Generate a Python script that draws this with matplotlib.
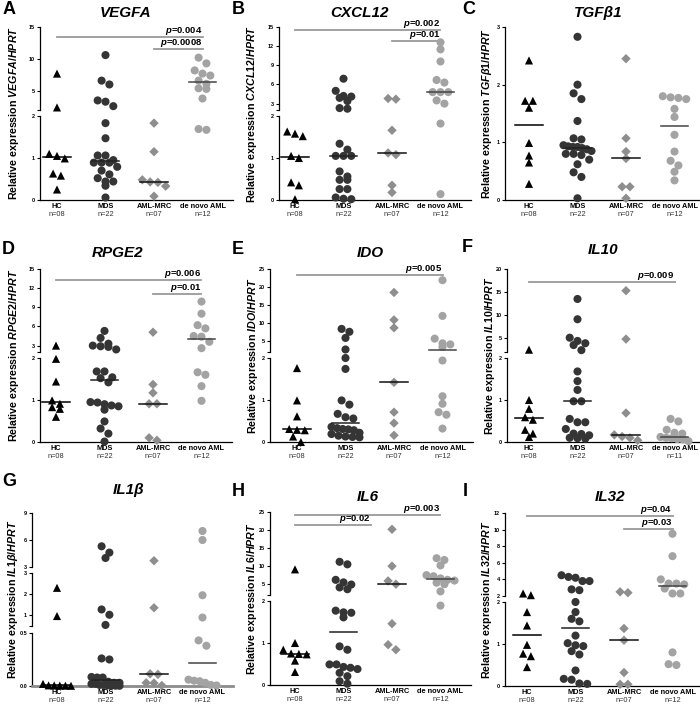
import numpy as np
import matplotlib.pyplot as plt

plt.rcParams['font.family'] = ['Liberation Sans', 'DejaVu Sans']
plt.rcParams['mathtext.fontset'] = 'custom'
plt.rcParams['mathtext.it'] = 'Liberation Sans:italic:bold'
plt.rcParams['mathtext.rm'] = 'Liberation Sans:bold'
plt.rcParams['mathtext.bf'] = 'Liberation Sans:bold'

# groups on the x axis
groups = ['HC', 'MDS', 'AML-MRC', 'de novo AML']
n_12 = ['n=08', 'n=22', 'n=07', 'n=12']
n_11 = ['n=08', 'n=22', 'n=07', 'n=11']

# relative expression, one list per group: HC, MDS, AML-MRC, de novo AML
vegfa = [
    [7.7, 2.4, 1.10, 1.05, 0.99, 0.63, 0.58, 0.25],
    [10.6, 6.6, 6.0, 3.5, 3.3, 2.6, 1.83, 1.47, 1.06, 1.06, 0.95, 0.89, 0.89, 0.89,
     0.79, 0.70, 0.61, 0.52, 0.44, 0.44, 0.34, 0.06],
    [1.83, 1.15, 0.48, 0.43, 0.42, 0.33, 0.09],
    [10.2, 9.3, 8.2, 7.7, 7.4, 6.6, 6.1, 5.4, 5.3, 3.8, 1.69, 1.67],
]
cxcl12 = [
    [1.63, 1.58, 1.52, 1.05, 1.0, 0.42, 0.35, 0.02],
    [6.9, 5.0, 4.2, 4.1, 3.9, 3.4, 2.3, 2.2, 1.34, 1.2, 1.05, 1.05, 1.05, 0.68,
     0.56, 0.48, 0.48, 0.26, 0.26, 0.06, 0.03, 0.02],
    [3.8, 3.7, 1.66, 1.12, 1.08, 0.35, 0.18],
    [12.6, 11.5, 9.6, 6.7, 6.3, 4.8, 4.8, 4.8, 3.5, 3.0, 1.82, 0.14],
]
tgfb1 = [
    [2.42, 1.72, 1.72, 1.60, 0.99, 0.77, 0.65, 0.28],
    [2.83, 2.0, 1.85, 1.75, 1.37, 1.07, 1.05, 0.95, 0.93, 0.92, 0.92, 0.90, 0.88,
     0.85, 0.80, 0.80, 0.78, 0.70, 0.62, 0.48, 0.40, 0.03],
    [2.45, 1.07, 0.84, 0.72, 0.23, 0.23, 0.03],
    [1.80, 1.78, 1.77, 1.75, 1.58, 1.44, 1.13, 0.84, 0.68, 0.60, 0.49, 0.34],
]
rpge2 = [
    [3.0, 1.98, 1.44, 0.99, 0.91, 0.83, 0.79, 0.60],
    [5.3, 4.2, 3.3, 3.0, 2.9, 2.8, 2.4, 1.68, 1.68, 1.54, 1.52, 1.42, 0.95, 0.94,
     0.90, 0.87, 0.85, 0.77, 0.49, 0.32, 0.20, 0.01],
    [5.1, 1.37, 1.17, 0.91, 0.91, 0.10, 0.04],
    [9.9, 8.0, 6.2, 5.7, 4.5, 4.4, 3.6, 2.6, 1.66, 1.60, 1.33, 0.98],
]
ido = [
    [1.76, 0.99, 0.61, 0.31, 0.29, 0.28, 0.13, 0.0],
    [8.4, 7.6, 5.9, 2.7, 2.0, 1.74, 0.99, 0.89, 0.67, 0.59, 0.56, 0.36, 0.33, 0.31,
     0.30, 0.28, 0.22, 0.19, 0.15, 0.13, 0.12, 0.11],
    [18.5, 10.9, 8.7, 1.42, 0.71, 0.45, 0.16],
    [21.9, 12.0, 5.7, 4.4, 4.1, 3.4, 1.94, 1.09, 0.91, 0.71, 0.65, 0.32],
]
il10 = [
    [2.5, 1.0, 0.79, 0.59, 0.53, 0.29, 0.20, 0.12],
    [13.5, 9.1, 5.1, 4.4, 3.9, 3.5, 2.4, 1.68, 1.45, 1.24, 0.97, 0.97, 0.55, 0.47,
     0.47, 0.31, 0.20, 0.19, 0.16, 0.10, 0.09, 0.08],
    [15.3, 4.8, 0.69, 0.17, 0.13, 0.10, 0.04],
    [0.55, 0.49, 0.29, 0.22, 0.20, 0.12, 0.10, 0.09, 0.07, 0.06, 0.02],
]
il1b = [
    [2.3, 0.97, 0.02, 0.006, 0.005, 0.004, 0.003, 0.002],
    [5.3, 4.6, 4.0, 1.28, 1.03, 0.55, 0.26, 0.25, 0.085, 0.08, 0.08, 0.04, 0.03,
     0.03, 0.02, 0.02, 0.01, 0.01, 0.005, 0.005, 0.003, 0.002],
    [3.7, 1.36, 0.115, 0.11, 0.03, 0.028, 0.005],
    [7.0, 6.0, 1.95, 0.9, 0.43, 0.38, 0.06, 0.05, 0.045, 0.03, 0.01, 0.005],
]
il6 = [
    [9.1, 1.0, 0.84, 0.75, 0.74, 0.73, 0.58, 0.31],
    [11.2, 10.5, 6.2, 5.5, 4.9, 4.1, 3.6, 1.77, 1.73, 1.72, 1.61, 0.92, 0.84, 0.49,
     0.49, 0.43, 0.41, 0.38, 0.29, 0.21, 0.09, 0.03],
    [20.2, 10.0, 5.9, 5.0, 1.46, 0.96, 0.84],
    [12.2, 11.7, 10.2, 7.5, 7.2, 6.6, 6.2, 6.0, 5.4, 5.0, 3.0, 1.89],
]
il32 = [
    [2.3, 2.1, 1.76, 1.44, 0.98, 0.77, 0.71, 0.45],
    [4.5, 4.3, 4.2, 3.8, 3.8, 2.8, 2.7, 2.0, 1.76, 1.6, 1.54, 1.2, 1.02, 0.97, 0.95,
     0.83, 0.75, 0.37, 0.17, 0.15, 0.06, 0.05],
    [2.5, 2.4, 1.37, 1.09, 0.32, 0.04, 0.04],
    [9.5, 6.8, 4.0, 3.5, 3.5, 3.4, 2.9, 2.3, 2.3, 0.8, 0.52, 0.50],
]

# p-value bars: (from group, to group, height, p)
bars_a = [(1, 4, 13.4, '0.004'), (3, 4, 11.5, '0.0008')]
bars_b = [(1, 4, 14.6, '0.002'), (3, 4, 12.8, '0.01')]
bars_d = [(1, 4, 13.2, '0.006'), (3, 4, 11.1, '0.01')]
bars_e = [(1, 4, 23.3, '0.005')]
bars_f = [(1, 4, 17.1, '0.009')]
bars_h = [(1, 4, 24.3, '0.003'), (1, 2.57, 21.3, '0.02')]
bars_i = [(1, 4, 11.6, '0.04'), (3, 4, 10.05, '0.03')]

# broken axis segments, bottom to top: (lo, hi, height px, ticks, labels, gap above px)
def two_seg(top, ticks):
    return [(0, 2, 84, [0, 1, 2], ['0', '1', '2'], 6),
            (2, top, 83, ticks, [str(t) for t in ticks], 0)]

markers = ['^', 'o', 'D', 'o']
sizes = [34, 34, 23, 34]
colors = ['black', '#353535', '#8e8e8e', '#a3a3a3']
med_colors = ['black', '#222222', '#111111', '#444444']

W, H = 700, 707
fig = plt.figure(figsize=(7, 7.07), dpi=100)
step = 48.5  # px between groups


def box(x0, y_top, w, h):
    return [x0 / W, 1 - (y_top + h) / H, w / W, h / H]


def draw_panel(letter, gene, data, nlab, segs, bars, spine, top, hc_off,
               title_xy, letter_xy, ylab_x, gray_axis=False):
    x_left = 1 - hc_off / step
    x_right = 4.63
    width = (x_right - x_left) * step
    total = sum(s[2] + s[5] for s in segs)

    axes = []
    cur = top + total
    for i, (lo, hi, h, ticks, labels, gap) in enumerate(segs):
        ax = fig.add_axes(box(spine, cur - h, width, h))
        cur = cur - h - gap
        ax.set_xlim(x_left, x_right)
        ax.set_ylim(lo, hi)
        ax.patch.set_visible(False)
        for s in ['top', 'right']:
            ax.spines[s].set_visible(False)
        ax.spines['left'].set_linewidth(0.9)
        tk = list(ticks)
        lb = list(labels)
        if lo not in tk:
            tk = [lo] + tk
            lb = [''] + lb
        ax.set_yticks(tk)
        ax.set_yticklabels(lb, fontsize=4, fontweight='bold')
        ax.tick_params(axis='y', length=2.5, width=0.8, pad=1)
        if i == 0:
            ax.spines['bottom'].set_linewidth(2 if gray_axis else 0.9)
            ax.spines['bottom'].set_color('#8c8c8c' if gray_axis else 'black')
            ax.set_xticks([1, 2, 3, 4])
            ax.set_xticklabels(groups, fontsize=5.3, fontweight='bold')
            ax.tick_params(axis='x', length=0, pad=2)
            for k, t in enumerate(nlab):
                ax.annotate(t, xy=(k + 1, 0), xycoords=('data', 'axes fraction'),
                            xytext=(0, -8.2), textcoords='offset points',
                            ha='center', va='top', fontsize=5.3, color='#333333')
        else:
            ax.spines['bottom'].set_visible(False)
            ax.set_xticks([])
        axes.append(ax)

    def seg_of(v):
        for j, s in enumerate(segs):
            if v <= s[1]:
                return j
        return len(segs) - 1

    px_unit = axes[0].bbox.width / (x_right - x_left)

    for g, vals in enumerate(data):
        vals = np.array(vals)
        order = np.argsort(-vals)
        ypix = np.array([axes[seg_of(v)].transData.transform((1, v))[1] for v in vals])
        # simple column scatter: points in the same row are spread sideways
        xoff = np.zeros(len(vals))
        rows = []
        for idx in order:
            if rows and abs(ypix[rows[-1][0]] - ypix[idx]) < 6.5:
                rows[-1].append(idx)
            else:
                rows.append([idx])
        for r in rows:
            k = len(r)
            sp = min(7.8, 28 / (k - 1)) if k > 1 else 0
            for i, idx in enumerate(r):
                xoff[idx] = (i - (k - 1) / 2) * sp / px_unit
        for j, ax in enumerate(axes):
            sel = np.array([seg_of(v) == j for v in vals])
            if sel.any():
                ax.scatter(g + 1 + xoff[sel], vals[sel], marker=markers[g], s=sizes[g],
                           color=colors[g], edgecolors='none', clip_on=False, zorder=3)
        m = np.median(vals)
        axes[seg_of(m)].plot([g + 1 - 0.28, g + 1 + 0.28], [m, m], color=med_colors[g],
                             lw=1.1, clip_on=False, zorder=4)

    for x1, x2, y, p in bars:
        ax = axes[-1]
        ax.plot([x1, x2], [y, y], color='#9a9a9a', lw=1.3, clip_on=False, zorder=2)
        ax.text(x2, y, r'$\mathit{p}$=' + p, ha='right', va='bottom', fontsize=6.8,
                fontweight='bold')

    fig.text(ylab_x / W, 1 - (top + total / 2) / H,
             r'Relative expression $\mathit{' + gene + '/HPRT}$',
             rotation=90, ha='center', va='center', fontsize=7.7, fontweight='bold')
    fig.text(title_xy[0] / W, 1 - title_xy[1] / H, gene, ha='center', va='center',
             fontsize=11, fontweight='bold', style='italic')
    fig.text(letter_xy[0] / W, 1 - letter_xy[1] / H, letter, ha='left', va='center',
             fontsize=13, fontweight='bold')


draw_panel('A', 'VEGFA', vegfa, n_12, two_seg(15, [5, 10, 15]), bars_a,
           40, 27, 17, (126, 13), (3, 10), 14)
draw_panel('B', 'CXCL12', cxcl12, n_12, two_seg(15, [3, 6, 9, 12, 15]), bars_b,
           279, 27, 16, (359, 13), (232, 10), 252)
draw_panel('C', 'TGFβ1', tgfb1, n_12,
           [(0, 3, 173, [0, 1, 2, 3], ['0', '1', '2', '3'], 0)], [],
           505, 27, 24, (598, 13), (462, 10), 487)
draw_panel('D', 'RPGE2', rpge2, n_12, two_seg(15, [3, 6, 9, 12, 15]), bars_d,
           40, 269, 16, (118, 253), (2, 250), 14)
draw_panel('E', 'IDO', ido, n_12, two_seg(25, [5, 10, 15, 20, 25]), bars_e,
           270, 269, 27, (370, 253), (232, 250), 253)
draw_panel('F', 'IL10', il10, n_11, two_seg(20, [5, 10, 15, 20]), bars_f,
           507, 269, 22, (603, 250), (462, 248), 490)
draw_panel('G', 'IL1β', il1b, n_12,
           [(0, 0.5, 53, [0, 0.5], ['0.0', '0.5'], 7),
            (0.5, 3, 53, [1, 2, 3], ['1', '2', '3'], 6),
            (3, 9, 54, [3, 6, 9], ['3', '6', '9'], 0)], [],
           32, 513, 25, (129, 490), (2, 482), 13, gray_axis=True)
draw_panel('H', 'IL6', il6, n_12, two_seg(25, [5, 10, 15, 20, 25]), bars_h,
           270, 512, 25, (368, 497), (232, 492), 252)
draw_panel('I', 'IL32', il32, n_12, two_seg(12, [2, 4, 6, 8, 10, 12]), bars_i,
           505, 513, 22, (610, 497), (463, 492), 487)

fig.savefig('out.png', dpi=100)
